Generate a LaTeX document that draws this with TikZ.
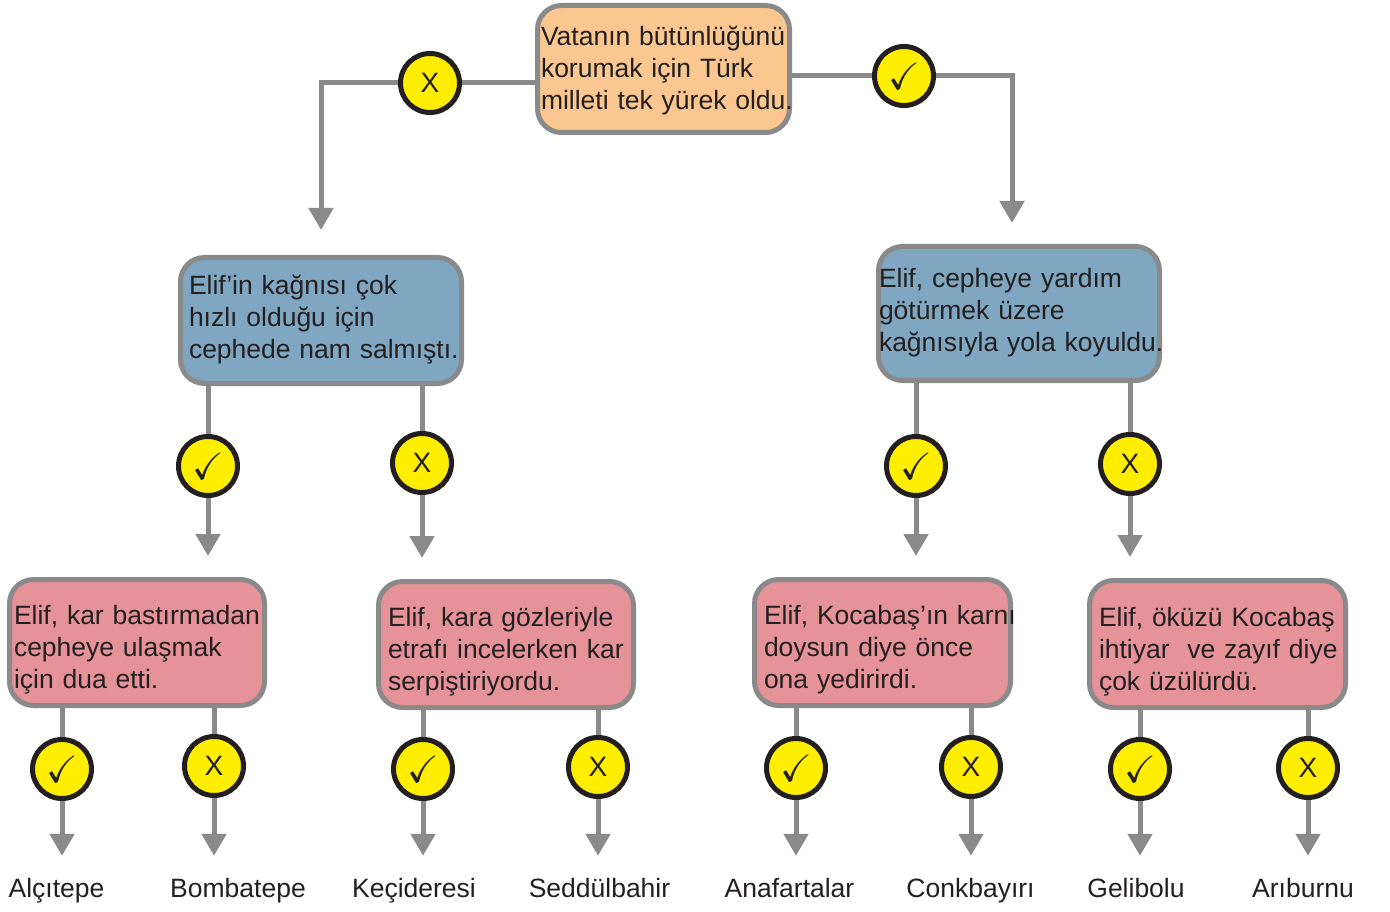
\documentclass[tikz,border=0pt]{standalone}
\usepackage{amssymb}
\usepackage{fontspec}
\setmainfont{Liberation Sans}
\usetikzlibrary{arrows.meta}
\definecolor{inkc}{RGB}{35,31,32}
\definecolor{wirec}{RGB}{138,138,138}
\definecolor{peachc}{RGB}{250,199,144}
\definecolor{steelc}{RGB}{128,167,193}
\definecolor{rosec}{RGB}{229,147,152}
\definecolor{lemonc}{RGB}{255,238,0}
\newcommand{\stmttext}[2][0pt]{\begin{tabular}{@{}l@{}}\rule{0pt}{\dimexpr 22.4pt+#1\relax}#2\end{tabular}}
\newcommand{\yesmark}{\raisebox{-4pt}{\fontsize{38}{38}\selectfont$\checkmark$}}
\tikzset{
  stmt/.style={draw=wirec, line width=5pt, rounded corners=24pt, text=inkc, align=left, inner ysep=0pt, font=\fontsize{26.5}{32}\selectfont},
  rootstmt/.style={stmt, fill=peachc},
  midstmt/.style={stmt, fill=steelc, minimum width=281pt},
  lowstmt/.style={stmt, fill=rosec, minimum width=255pt, minimum height=126pt},
  choice/.style={circle, draw=inkc, line width=5pt, fill=lemonc, minimum size=59pt, inner sep=0pt, text=inkc, font=\fontsize{28}{28}\selectfont},
  place/.style={anchor=base, inner sep=0pt, text height=20pt, text depth=6pt, text=inkc, font=\fontsize{26.5}{32}\selectfont},
  wire/.style={draw=wirec, line width=5pt},
  flow/.style={wire, -{Triangle[length=22pt,width=24pt]}, shorten >=21pt}
}

\begin{document}
\begin{tikzpicture}[x=1pt, y=-1pt]
    \useasboundingbox (0,0) rectangle (1390,912);

    \node[rootstmt, minimum width=252pt, minimum height=127pt, inner xsep=3.5pt, text width=245pt] (root) at (663.5,69) {\stmttext[4pt]{Vatanın bütünlüğünü\\korumak için Türk\\milleti tek yürek oldu.}};

    \node[midstmt, minimum height=126pt, inner xsep=8.5pt, text width=264pt] (fast) at (321,320.5) {\stmttext{Elif’in kağnısı çok\\hızlı olduğu için\\cephede nam salmıştı.}};
    \node[midstmt, minimum height=134pt, inner xsep=0.5pt, text width=280pt] (help) at (1019,313.5) {\stmttext{Elif, cepheye yardım\\götürmek üzere\\kağnısıyla yola koyuldu.}};

    \node[lowstmt, inner xsep=4.5pt, text width=246pt] (pray) at (137,642.5) {\stmttext[16pt]{Elif, kar bastırmadan\\cepheye ulaşmak\\için dua etti.}};
    \node[lowstmt, inner xsep=9.5pt, text width=236pt] (eyes) at (506,644.5) {\stmttext[16pt]{Elif, kara gözleriyle\\etrafı incelerken kar\\serpiştiriyordu.}};
    \node[lowstmt, minimum width=256pt, inner xsep=9.5pt, text width=237pt] (feed) at (882.5,642.5) {\stmttext[16pt]{Elif, Kocabaş’ın karnı\\doysun diye önce\\ona yedirirdi.}};
    \node[lowstmt, minimum width=256pt, minimum height=127pt, inner xsep=9.5pt, text width=237pt] (sorr) at (1217.5,644) {\stmttext[16pt]{Elif, öküzü Kocabaş\\ihtiyar\ \ ve zayıf diye\\çok üzülürdü.}};

    \node[choice] (rootno) at (430,83) {X};
    \node[choice] (rootyes) at (904,76) {\yesmark};
    \node[choice] (fastyes) at (208,466) {\yesmark};
    \node[choice] (fastno) at (422,463) {X};
    \node[choice] (helpyes) at (916,466) {\yesmark};
    \node[choice] (helpno) at (1130,464) {X};
    \node[choice] (prayyes) at (62,769) {\yesmark};
    \node[choice] (prayno) at (214,766) {X};
    \node[choice] (eyesyes) at (423,769) {\yesmark};
    \node[choice] (eyesno) at (598,767) {X};
    \node[choice] (feedyes) at (796,768) {\yesmark};
    \node[choice] (feedno) at (971,767) {X};
    \node[choice] (sorryes) at (1140,769) {\yesmark};
    \node[choice] (sorrno) at (1308,768) {X};

    \node[place] (alcitepe) at (56.5,897) {Alçıtepe};
    \node[place] (bombatepe) at (238,897) {Bombatepe};
    \node[place] (keciderisi) at (414,897) {Keçideresi};
    \node[place] (seddulbahir) at (599.5,897) {Seddülbahir};
    \node[place] (anafartalar) at (789.5,897) {Anafartalar};
    \node[place] (conkbayiri) at (970.5,897) {Conkbayırı};
    \node[place] (gelibolu) at (1136,897) {Gelibolu};
    \node[place] (ariburnu) at (1303,897) {Arıburnu};

    \draw[wire] (root.west |- rootno) -- (rootno);
    \draw[flow, shorten >=25pt] (rootno) -| (fast.north);
    \draw[wire] (root.east |- rootyes) -- (rootyes);
    \draw[flow] (rootyes) -| ([xshift=-7pt]help.north);

    \foreach \b/\c/\t in {fast/fastyes/pray, fast/fastno/eyes, help/helpyes/feed, help/helpno/sorr,
        pray/prayyes/alcitepe, pray/prayno/bombatepe, eyes/eyesyes/keciderisi, eyes/eyesno/seddulbahir,
        feed/feedyes/anafartalar, feed/feedno/conkbayiri, sorr/sorryes/gelibolu, sorr/sorrno/ariburnu}{
      \draw[wire] (\b.south -| \c) -- (\c);
      \draw[flow] (\c) -- (\t.north -| \c);
    }
\end{tikzpicture}
\end{document}
